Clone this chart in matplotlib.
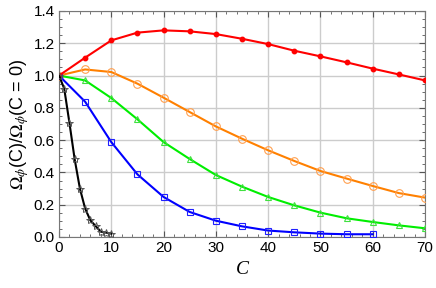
import numpy as np
import matplotlib.pyplot as plt
from matplotlib.ticker import MultipleLocator

# data
c_main = [0, 5, 10, 15, 20, 25, 30, 35, 40, 45, 50, 55, 60, 65, 70]
red = [1.0, 1.111, 1.218, 1.266, 1.280, 1.274, 1.257, 1.228, 1.195, 1.154,
       1.119, 1.082, 1.043, 1.007, 0.970]
orange = [1.0, 1.038, 1.022, 0.950, 0.863, 0.774, 0.685, 0.609, 0.537, 0.471,
          0.409, 0.362, 0.316, 0.272, 0.244]
green = [1.0, 0.970, 0.861, 0.729, 0.588, 0.483, 0.384, 0.312, 0.248, 0.196,
         0.151, 0.116, 0.093, 0.072, 0.054]
c_blue = [0, 5, 10, 15, 20, 25, 30, 35, 40, 45, 50, 55, 60]
blue = [1.0, 0.838, 0.588, 0.388, 0.248, 0.155, 0.101, 0.066, 0.040, 0.029,
        0.021, 0.017, 0.017]
c_black = [0, 1, 2, 3, 4, 5, 6, 7, 8, 9, 10]
black = [1.0, 0.919, 0.706, 0.481, 0.300, 0.176, 0.103, 0.068, 0.033, 0.027, 0.021]

plt.rcParams['font.family'] = 'Liberation Sans'
plt.rcParams['mathtext.fontset'] = 'stix'

fig = plt.figure(figsize=(4.36, 2.88), dpi=100)
ax = fig.add_axes([59/436, 1-237/288, (425-59)/436, (237-11)/288])

ax.plot(c_main, red, color='#ff0000', lw=1.5, marker='o', ms=3.2,
        mfc='#ff0000', mec='#ff0000', zorder=5)
ax.plot(c_main, orange, color='#ff8000', lw=1.5, marker='o', ms=5.5,
        mfc='none', mec='#ffa050', mew=0.8, zorder=4)
ax.plot(c_main, green, color='#00ee00', lw=1.5, marker='^', ms=5,
        mfc='none', mec='#40e040', mew=0.8, zorder=4)
ax.plot(c_blue, blue, color='#0000ff', lw=1.5, marker='s', ms=4,
        mfc='none', mec='#2020ff', mew=0.8, zorder=4)
ax.plot(c_black, black, color='black', lw=1.5, marker='*', ms=6,
        mfc='none', mec='#555555', mew=0.7, zorder=6)

ax.set_xlim(0, 70)
ax.set_ylim(0, 1.4)
ax.xaxis.set_major_locator(MultipleLocator(10))
ax.xaxis.set_minor_locator(MultipleLocator(2))
ax.yaxis.set_major_locator(MultipleLocator(0.2))
ax.yaxis.set_minor_locator(MultipleLocator(0.05))
ax.set_yticklabels([f'{v:.1f}' for v in ax.get_yticks()])
ax.grid(True, which='major', color='#cccccc', lw=1)
ax.set_axisbelow(True)
for s in ax.spines.values():
    s.set_color('#777777')
ax.tick_params(which='both', direction='in', top=True, right=True,
               color='#555555', labelsize=11, pad=3)
ax.tick_params(which='major', length=4)
ax.tick_params(which='minor', length=2)

ax.set_xlabel('C', fontsize=14, family='Liberation Serif', style='italic', labelpad=4)
ax.set_ylabel(r'$\Omega_{\phi}$(C)/$\Omega_{\phi}$(C = 0)', fontsize=13, labelpad=2)

fig.savefig('out.png', dpi=100)
